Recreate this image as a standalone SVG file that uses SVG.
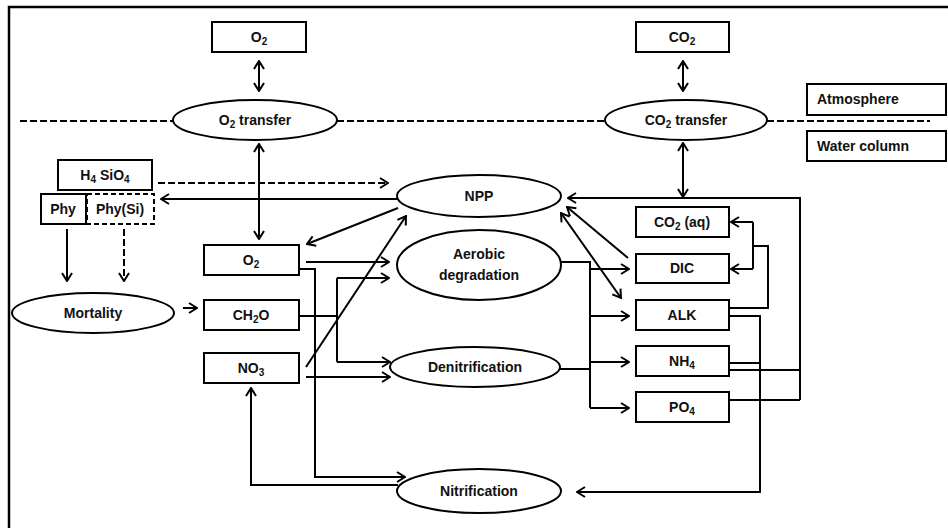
<svg xmlns="http://www.w3.org/2000/svg" width="948" height="528" viewBox="0 0 948 528">
<style>
text{font-family:"Liberation Sans",Arial,sans-serif;font-weight:bold;font-size:14px;fill:#111;text-anchor:middle}
.sub{font-size:10px}
.box{fill:#fff;stroke:#000;stroke-width:2}
.dbox{fill:#fff;stroke:#000;stroke-width:2;stroke-dasharray:5,3}
.ell{fill:#fff;stroke:#000;stroke-width:2}
.ln{fill:none;stroke:#000;stroke-width:2}
.dash{fill:none;stroke:#000;stroke-width:2;stroke-dasharray:7,3}
.lt{text-anchor:start}
</style>
<defs>
<marker id="ah" viewBox="0 0 10 12" refX="9" refY="6" markerWidth="10" markerHeight="12" markerUnits="userSpaceOnUse" orient="auto-start-reverse">
<path d="M1,1 L9,6 L1,11" fill="none" stroke="#000" stroke-width="2"/>
</marker>
</defs>
<path d="M9,528 L9,7 L948,7" fill="none" stroke="#000" stroke-width="2.5"/>

<g id="connectors">
<line class="dash" x1="20" y1="121" x2="173" y2="121"/>
<line class="dash" x1="337" y1="121" x2="605" y2="121"/>
<line class="dash" x1="767" y1="121" x2="930" y2="121"/>
<line class="ln" x1="259" y1="61" x2="259" y2="91" marker-start="url(#ah)" marker-end="url(#ah)"/>
<line class="ln" x1="683" y1="61" x2="683" y2="91" marker-start="url(#ah)" marker-end="url(#ah)"/>
<line class="ln" x1="259" y1="144" x2="259" y2="239" marker-start="url(#ah)" marker-end="url(#ah)"/>
<line class="ln" x1="683" y1="143" x2="683" y2="197" marker-start="url(#ah)" marker-end="url(#ah)"/>
<line class="dash" x1="158" y1="183" x2="388" y2="183" marker-end="url(#ah)"/>
<line class="ln" x1="397" y1="199" x2="161" y2="199" marker-end="url(#ah)"/>
<line class="ln" x1="67" y1="229" x2="67" y2="281" marker-end="url(#ah)"/>
<line class="dash" x1="124" y1="229" x2="124" y2="281" marker-end="url(#ah)"/>
<line class="ln" x1="183" y1="308" x2="197" y2="308" marker-end="url(#ah)"/>
<line class="ln" x1="398" y1="208" x2="307" y2="244" marker-end="url(#ah)"/>
<line class="ln" x1="306" y1="262" x2="389" y2="262" marker-end="url(#ah)"/>
<polyline class="ln" points="299,269 315,269 315,477 405,477" marker-end="url(#ah)"/>
<line class="ln" x1="299" y1="316" x2="337" y2="316"/>
<line class="ln" x1="337" y1="278" x2="337" y2="362"/>
<line class="ln" x1="337" y1="278" x2="389" y2="278" marker-end="url(#ah)"/>
<line class="ln" x1="337" y1="362" x2="390" y2="362" marker-end="url(#ah)"/>
<line class="ln" x1="306" y1="377" x2="390" y2="377" marker-end="url(#ah)"/>
<line class="ln" x1="306" y1="367" x2="406" y2="216" marker-end="url(#ah)"/>
<polyline class="ln" points="398,485 251,485 251,388" marker-end="url(#ah)"/>
<line class="ln" x1="561" y1="262" x2="591" y2="262"/>
<line class="ln" x1="560" y1="369" x2="590" y2="369"/>
<line class="ln" x1="590" y1="261" x2="590" y2="408"/>
<line class="ln" x1="590" y1="269" x2="629" y2="269" marker-end="url(#ah)"/>
<line class="ln" x1="590" y1="316" x2="629" y2="316" marker-end="url(#ah)"/>
<line class="ln" x1="590" y1="362" x2="629" y2="362" marker-end="url(#ah)"/>
<line class="ln" x1="590" y1="408" x2="629" y2="408" marker-end="url(#ah)"/>
<line class="ln" x1="628" y1="258" x2="567" y2="207" marker-end="url(#ah)"/>
<line class="ln" x1="561" y1="213" x2="621" y2="298" marker-start="url(#ah)" marker-end="url(#ah)"/>
<polyline class="ln" points="800,400 800,198 568,198" marker-end="url(#ah)"/>
<line class="ln" x1="729" y1="400" x2="800" y2="400"/>
<line class="ln" x1="729" y1="370" x2="800" y2="370"/>
<polyline class="ln" points="729,308 768,308 768,246 753,246"/>
<line class="ln" x1="753" y1="222" x2="753" y2="269"/>
<line class="ln" x1="753" y1="222" x2="731" y2="222" marker-end="url(#ah)"/>
<line class="ln" x1="753" y1="269" x2="731" y2="269" marker-end="url(#ah)"/>
<polyline class="ln" points="729,316 760,316 760,492 577,492" marker-end="url(#ah)"/>
<line class="ln" x1="729" y1="363" x2="760" y2="363"/>
</g>

<g id="o2-atm"><rect class="box" x="212" y="22" width="94" height="30"/><text x="259" y="42">O<tspan class="sub" dy="3">2</tspan></text></g>
<g id="co2-atm"><rect class="box" x="636" y="22" width="93" height="30"/><text x="682" y="42">CO<tspan class="sub" dy="3">2</tspan></text></g>
<g id="o2-transfer"><ellipse class="ell" cx="255" cy="120" rx="82" ry="20"/><text x="255" y="125">O<tspan class="sub" dy="3">2</tspan><tspan dy="-3"> transfer</tspan></text></g>
<g id="co2-transfer"><ellipse class="ell" cx="686" cy="120" rx="81" ry="20"/><text x="686" y="125">CO<tspan class="sub" dy="3">2</tspan><tspan dy="-3"> transfer</tspan></text></g>
<g id="atmosphere"><rect class="box" x="807" y="84" width="139" height="31"/><text class="lt" x="817" y="104">Atmosphere</text></g>
<g id="water-column"><rect class="box" x="807" y="131" width="139" height="30"/><text class="lt" x="817" y="151">Water column</text></g>
<g id="h4sio4"><rect class="box" x="58" y="160" width="94" height="30"/><text x="105" y="180">H<tspan class="sub" dy="3">4</tspan><tspan dy="-3"> SiO</tspan><tspan class="sub" dy="3">4</tspan></text></g>
<g id="phy"><rect class="box" x="41" y="194" width="45" height="30"/><text x="63" y="214">Phy</text></g>
<g id="phy-si"><rect class="dbox" x="87" y="194" width="67" height="30"/><text x="120" y="214">Phy(Si)</text></g>
<g id="mortality"><ellipse class="ell" cx="93" cy="313" rx="81" ry="20"/><text x="93" y="318">Mortality</text></g>
<g id="o2"><rect class="box" x="204" y="245" width="95" height="30"/><text x="251" y="265">O<tspan class="sub" dy="3">2</tspan></text></g>
<g id="ch2o"><rect class="box" x="204" y="300" width="95" height="30"/><text x="251" y="320">CH<tspan class="sub" dy="3">2</tspan><tspan dy="-3">O</tspan></text></g>
<g id="no3"><rect class="box" x="204" y="353" width="95" height="30"/><text x="251" y="373">NO<tspan class="sub" dy="3">3</tspan></text></g>
<g id="npp"><ellipse class="ell" cx="479" cy="196" rx="82" ry="21"/><text x="479" y="201">NPP</text></g>
<g id="aerobic"><ellipse class="ell" cx="479" cy="265" rx="82" ry="35"/><text x="479" y="259">Aerobic</text><text x="479" y="280">degradation</text></g>
<g id="denitrification"><ellipse class="ell" cx="475" cy="367" rx="85" ry="20"/><text x="475" y="372">Denitrification</text></g>
<g id="nitrification"><ellipse class="ell" cx="479" cy="491" rx="82" ry="22"/><text x="479" y="496">Nitrification</text></g>
<g id="co2aq"><rect class="box" x="636" y="207" width="93" height="30"/><text x="682" y="227">CO<tspan class="sub" dy="3">2</tspan><tspan dy="-3">  (aq)</tspan></text></g>
<g id="dic"><rect class="box" x="636" y="254" width="93" height="29"/><text x="682" y="273">DIC</text></g>
<g id="alk"><rect class="box" x="636" y="300" width="93" height="30"/><text x="682" y="320">ALK</text></g>
<g id="nh4"><rect class="box" x="636" y="346" width="93" height="30"/><text x="682" y="366">NH<tspan class="sub" dy="3">4</tspan></text></g>
<g id="po4"><rect class="box" x="636" y="392" width="93" height="30"/><text x="682" y="412">PO<tspan class="sub" dy="3">4</tspan></text></g>
</svg>
